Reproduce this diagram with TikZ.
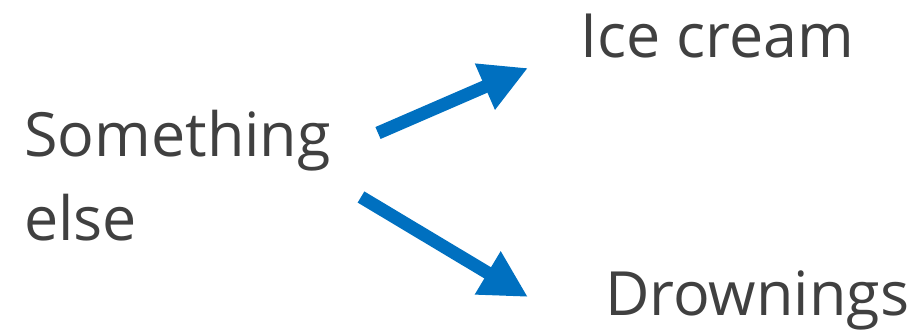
\documentclass[tikz,border=0pt]{standalone}
\usepackage{fontspec}
\setmainfont{Open Sans}
\usetikzlibrary{arrows.meta}
\definecolor{txtgray}{HTML}{404040}
\definecolor{arrblue}{HTML}{0070C0}
\tikzset{
  label text/.style={inner sep=0pt, anchor=base west, text=txtgray, font=\fontsize{61}{83}\selectfont, align=left},
  big arrow/.style={draw=arrblue, line width=13pt, -{Triangle[length=47pt,width=47pt]}}
}
\begin{document}
\begin{tikzpicture}[x=1pt,y=-1pt]
\useasboundingbox (0,0) rectangle (923,331);
\node[label text] (something) at (24,240) {Something\\else};
\node[label text] (ice) at (580,58) {Ice cream};
\node[label text] (drown) at (605,315) {Drownings};
\coordinate (a1s) at (378,133);
\coordinate (a1e) at (528,68);
\coordinate (a2s) at (361,197);
\coordinate (a2e) at (528,297);
\draw[big arrow] (a1s) -- (a1e);
\draw[big arrow] (a2s) -- (a2e);
\end{tikzpicture}
\end{document}
